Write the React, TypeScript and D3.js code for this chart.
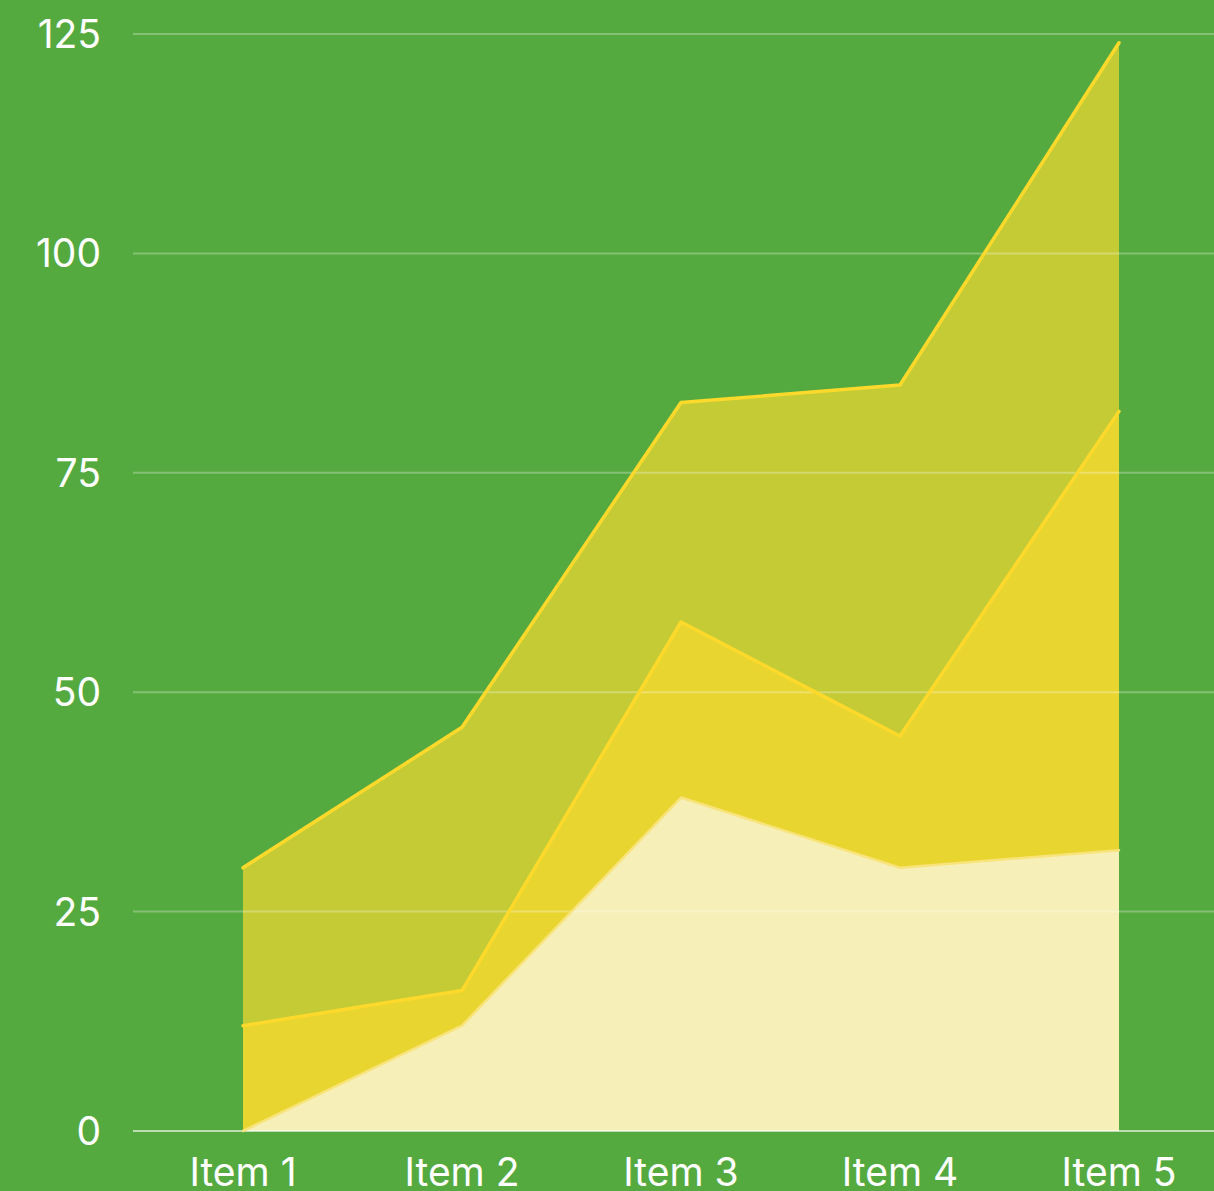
import { useRef, useEffect } from "react";
import * as d3 from "d3";

const categories = ["Item 1", "Item 2", "Item 3", "Item 4", "Item 5"];
const seriesA = [0, 12, 38, 30, 32];
const seriesB = [12, 4, 20, 15, 50];
const seriesC = [18, 30, 25, 40, 42];
const yTicks = [0, 25, 50, 75, 100, 125];

const FILLS = ["#f6efb7", "#e8d530", "#c4cb35"];
const LINES = ["#f8e47a", "#fcd92b", "#fcd92b"];
const LINE_W = [2.5, 3.5, 3.5];

export default function App() {
  const ref = useRef<SVGSVGElement>(null);

  useEffect(() => {
    if (!ref.current) return;
    const W = 1214;
    const H = 1191;
    const svg = d3.select(ref.current);
    svg.selectAll("*").remove();

    svg.append("rect").attr("width", W).attr("height", H).attr("fill", "#55aa3f");

    const x = d3.scalePoint<string>().domain(categories).range([243, 1119]);
    const y = d3.scaleLinear().domain([0, 125]).range([1131, 34]);

    const rows = categories.map((c, i) => ({ cat: c, a: seriesA[i], b: seriesB[i], c: seriesC[i] }));
    const stacked = d3.stack<any>().keys(["a", "b", "c"])(rows);

    const area = d3.area<any>()
      .x((d) => x(d.data.cat)!)
      .y0((d) => y(d[0]))
      .y1((d) => y(d[1]));
    const line = d3.line<any>()
      .x((d) => x(d.data.cat)!)
      .y((d) => y(d[1]));

    stacked.forEach((s, i) => {
      svg.append("path").attr("d", area(s)!).attr("fill", FILLS[i]);
    });

    // Grid
    yTicks.forEach((t) => {
      svg.append("line")
        .attr("x1", 133).attr("x2", W)
        .attr("y1", y(t)).attr("y2", y(t))
        .attr("stroke", "#ffffff").attr("stroke-opacity", t === 0 ? 0.6 : 0.28).attr("stroke-width", 2);
    });

    stacked.forEach((s, i) => {
      svg.append("path").attr("d", line(s)!)
        .attr("fill", "none").attr("stroke", LINES[i]).attr("stroke-width", LINE_W[i])
        .attr("stroke-linejoin", "round").attr("stroke-linecap", "round");
    });

    // Y labels
    yTicks.forEach((t) => {
      svg.append("text")
        .attr("x", 101).attr("y", y(t)).attr("dy", "0.36em")
        .attr("text-anchor", "end").attr("font-size", 39)
        .attr("font-family", "Inter, sans-serif").attr("fill", "#ffffff")
        .text(t);
    });

    // X labels
    categories.forEach((c) => {
      svg.append("text")
        .attr("x", x(c)!).attr("y", 1186)
        .attr("text-anchor", "middle").attr("font-size", 39)
        .attr("font-family", "Inter, sans-serif").attr("fill", "#ffffff")
        .text(c);
    });
  }, []);

  return (
    <svg ref={ref} width={1214} height={1191}
      style={{ display: "block", position: "absolute", left: 0, top: 0 }} />
  );
}
